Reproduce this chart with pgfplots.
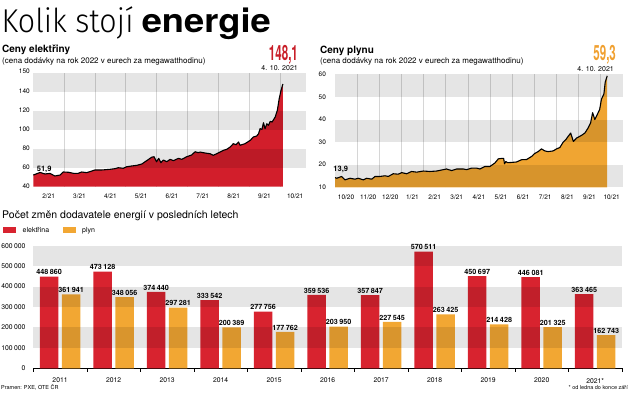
\documentclass[border=0pt]{standalone}
\usepackage{fontspec}
\setmainfont{TeX Gyre Heros}
\usepackage{graphicx}
\usepackage{pgfplots}
\pgfplotsset{compat=1.18}
\usepackage{pgfplotstable}

\IfFontExistsTF{Fira Sans Light}{\newfontfamily\titlelight{Fira Sans Light}}{\newfontfamily\titlelight{TeX Gyre Heros}}

\definecolor{ered}{HTML}{D21E2B}
\definecolor{gorange}{HTML}{F0A532}
\definecolor{bred}{HTML}{D8232F}
\definecolor{borange}{HTML}{F2A733}
\definecolor{gridgray}{HTML}{D6D6D6}
\definecolor{numred}{HTML}{C81E28}
\definecolor{numorange}{HTML}{F0A030}
\newcommand\fs[1]{\fontsize{#1}{#1}\selectfont}

\pgfplotstableread{
m v
0.00 52.3
0.10 53.5
0.22 55.0
0.38 53.4
0.54 54.0
0.70 51.3
0.87 52.3
0.97 55.5
1.14 55.2
1.30 54.1
1.46 54.1
1.57 55.5
1.73 54.8
1.90 56.5
2.00 57.6
2.22 57.6
2.49 58.3
2.65 59.0
2.76 60.0
2.92 59.4
3.03 61.0
3.19 61.8
3.36 62.5
3.52 63.9
3.68 67.4
3.84 71.0
3.92 71.6
4.00 66.3
4.07 69.9
4.14 65.3
4.22 68.1
4.33 66.3
4.44 68.8
4.55 67.4
4.71 69.9
4.82 68.8
4.98 71.6
5.14 73.4
5.25 76.8
5.36 75.8
5.41 76.5
5.57 75.5
5.74 74.7
5.84 73.1
5.95 74.7
6.06 76.5
6.17 78.3
6.28 79.4
6.39 81.8
6.49 85.3
6.58 84.2
6.66 87.1
6.71 83.6
6.87 85.3
7.04 88.8
7.14 92.3
7.25 93.4
7.31 95.8
7.36 101.1
7.42 100.4
7.47 107.4
7.52 101.1
7.58 106.3
7.63 104.6
7.69 108.8
7.75 108.1
7.85 113.4
7.92 120.4
7.98 132.6
8.04 141.5
8.10 148.1
}\elec

\pgfplotstableread{
m v
0.00 14.3
0.08 14.0
0.30 14.8
0.45 13.3
0.68 14.0
0.90 13.6
1.05 14.0
1.28 13.3
1.43 14.0
1.66 13.6
1.81 14.8
2.03 14.8
2.26 15.1
2.41 14.8
2.63 16.0
2.86 15.8
3.01 16.5
3.24 16.0
3.46 17.0
3.69 16.7
3.99 17.2
4.29 17.0
4.59 17.2
4.89 17.8
5.04 18.1
5.27 17.4
5.50 18.1
5.80 18.1
5.95 17.8
6.17 18.5
6.40 18.5
6.55 18.1
6.77 19.2
7.00 19.2
7.23 20.8
7.38 22.6
7.55 22.8
7.62 22.8
7.66 20.4
7.72 21.4
7.80 20.9
7.98 21.0
8.20 21.2
8.43 22.2
8.66 22.3
8.89 23.7
9.03 25.0
9.18 25.8
9.33 27.0
9.48 26.1
9.63 25.8
9.86 26.1
10.01 27.0
10.16 27.6
10.31 30.0
10.43 31.1
10.54 32.6
10.65 34.0
10.77 30.3
10.92 31.8
11.14 33.0
11.29 34.0
11.44 36.3
11.55 38.5
11.64 43.0
11.74 40.0
11.89 43.0
11.96 44.5
12.04 49.0
12.15 51.3
12.21 56.5
12.30 59.3
}\gas

\pgfplotstableread{
x e g
0 448860 361941
1 473128 348056
2 374440 297281
3 333542 200389
4 277756 177762
5 359536 203950
6 357847 227545
7 570511 263425
8 450697 214428
9 446081 201325
10 363465 162743
}\bars

\begin{document}
\begin{tikzpicture}[x=1pt,y=1pt]
\path[use as bounding box] (0,0) rectangle (630,392);

% titles
\node[anchor=base west, inner sep=0] at (1.5,359.7) {\fs{33}\scalebox{0.92}[1]{\titlelight Kolik stojí}\hspace{0.25em}\scalebox{1.1}[1]{\bfseries energie}};
\node[anchor=base west, inner sep=0] at (2,339.3) {\fs{10}\bfseries Ceny elektřiny};
\node[anchor=base west, inner sep=0] at (2,328.7) {\fs{8}(cena dodávky na rok 2022 v eurech za megawatthodinu)};
\node[anchor=base east, inner sep=0, xscale=0.55, text=numred] at (298,331) {\fs{21}\bfseries 148,1};
\node[anchor=base east, inner sep=0] at (298,321) {\fs{7}4. 10. 2021};

\node[anchor=base west, inner sep=0] at (320,338.7) {\fs{10}\bfseries Ceny plynu};
\node[anchor=base west, inner sep=0] at (320,328.7) {\fs{8}(cena dodávky na rok 2022 v eurech za megawatthodinu)};
\node[anchor=base east, inner sep=0, xscale=0.55, text=numorange] at (616,331) {\fs{21}\bfseries 59,3};
\node[anchor=base east, inner sep=0] at (614,320.5) {\fs{7}4. 10. 2021};

\node[anchor=base west, inner sep=0] at (2,173.5) {\fs{10.5}Počet změn dodavatele energií v posledních letech};
\fill[bred] (3,159) rectangle (16,165);
\node[anchor=base west, inner sep=0] at (22.5,159.5) {\fs{7}elektřina};
\fill[borange] (63,159) rectangle (76,165);
\node[anchor=base west, inner sep=0] at (82,159.5) {\fs{7}plyn};

\node[anchor=base west, inner sep=0] at (1,2.5) {\fs{5.5}Pramen: PXE, OTE ČR};
\node[anchor=base east, inner sep=0] at (628,2.5) {\fs{5.5}* od ledna do konce září};

% electricity
\begin{axis}[at={(33.3pt,205.3pt)}, anchor=south west, scale only axis,
  width=272.7pt, height=113.4pt, clip=false,
  xmin=0, xmax=8.85, ymin=40, ymax=159.4,
  axis line style={draw=none}, tick style={draw=none},
  xtick={0.5,1.5,...,8.5}, xticklabels={2/21,3/21,4/21,5/21,6/21,7/21,8/21,9/21,10/21},
  minor xtick={1,2,...,8}, xminorgrids, minor grid style={gridgray, line width=0.5pt},
  ytick={40,60,...,140}, extra y ticks={159.4}, extra y tick labels={150},
  extra y tick style={yticklabel style={yshift=2pt}},
  ticklabel style={font=\fs{6.5}},
  xticklabel style={yshift=-4pt},
  /pgf/number format/assume math mode=true]
\addplot[fill=ered, draw=none] table[x=m,y=v] {\elec} \closedcycle;
\fill[black, fill opacity=0.1] (axis cs:0,140) rectangle (axis cs:8.85,159.4);
\fill[black, fill opacity=0.1] (axis cs:0,100) rectangle (axis cs:8.85,120);
\fill[black, fill opacity=0.1] (axis cs:0,60) rectangle (axis cs:8.85,80);
\addplot[black, line width=1.1pt, line join=round] table[x=m,y=v] {\elec};
\node[anchor=base west, inner sep=0, font=\bfseries\fs{7.5}] at (axis cs:0.11,55.5) {51,9};
\end{axis}

% gas
\begin{axis}[at={(335pt,204.7pt)}, anchor=south west, scale only axis,
  width=287.7pt, height=113pt, clip=false,
  xmin=0, xmax=13, ymin=10, ymax=60,
  axis line style={draw=none}, tick style={draw=none},
  xtick={0.5,1.5,...,12.5}, xticklabels={10/20,11/20,12/20,1/21,2/21,3/21,4/21,5/21,6/21,7/21,8/21,9/21,10/21},
  minor xtick={1,2,...,12}, xminorgrids, minor grid style={gridgray, line width=0.5pt},
  ytick={10,20,...,60},
  ticklabel style={font=\fs{6.5}},
  xticklabel style={yshift=-4pt},
  yticklabel style={xshift=-5.5pt},
  /pgf/number format/assume math mode=true]
\addplot[fill=gorange, draw=none] table[x=m,y=v] {\gas} \closedcycle;
\fill[black, fill opacity=0.1] (axis cs:0,50) rectangle (axis cs:13,60);
\fill[black, fill opacity=0.1] (axis cs:0,30) rectangle (axis cs:13,40);
\fill[black, fill opacity=0.1] (axis cs:0,10) rectangle (axis cs:13,20);
\addplot[black, line width=1.1pt, line join=round] table[x=m,y=v] {\gas};
\node[anchor=base west, inner sep=0, font=\bfseries\fs{7.5}] at (axis cs:-0.08,17.1) {13,9};
\end{axis}

% bars
\begin{axis}[at={(33.3pt,23.7pt)}, anchor=south west, scale only axis,
  width=588.7pt, height=122.6pt, clip=false,
  xmin=-0.5, xmax=10.5, ymin=0, ymax=600000,
  ybar, bar width=18.5pt,
  separate axis lines, axis x line*=bottom, axis y line*=left,
  y axis line style={draw=none}, x axis line style={black, line width=0.8pt},
  ytick={0,100000,...,600000}, ytick style={draw=none},
  scaled y ticks=false,
  xtick={0,...,10}, xticklabels={2011,2012,2013,2014,2015,2016,2017,2018,2019,2020,2021*},
  major x tick style={draw=none},
  minor xtick={-0.5,0.5,...,10.5}, minor tick length=3.5pt, tick align=outside,
  minor x tick style={black, line width=0.6pt},
  ticklabel style={font=\fs{6.8}},
  xticklabel style={yshift=-2pt},
  /pgf/number format/.cd, fixed, precision=0, 1000 sep={\kern0.22em}, assume math mode=true]
\addplot[fill=bred, draw=none, bar shift=-11pt] table[x=x,y=e] {\bars};
\addplot[fill=borange, draw=none, bar shift=11pt] table[x=x,y=g] {\bars};
\fill[black, fill opacity=0.1] (axis cs:-0.5,500000) rectangle (axis cs:10.5,600000);
\fill[black, fill opacity=0.1] (axis cs:-0.5,300000) rectangle (axis cs:10.5,400000);
\fill[black, fill opacity=0.1] (axis cs:-0.5,100000) rectangle (axis cs:10.5,200000);
\addplot[draw=none, fill=none, bar shift=-11pt, nodes near coords,
  every node near coord/.append style={font=\bfseries\fs{7.2}, anchor=south, inner sep=1.5pt}] table[x=x,y=e] {\bars};
\addplot[draw=none, fill=none, bar shift=11pt, nodes near coords,
  every node near coord/.append style={font=\bfseries\fs{7.2}, anchor=south, inner sep=1.5pt}] table[x=x,y=g] {\bars};
\end{axis}
\end{tikzpicture}
\end{document}
